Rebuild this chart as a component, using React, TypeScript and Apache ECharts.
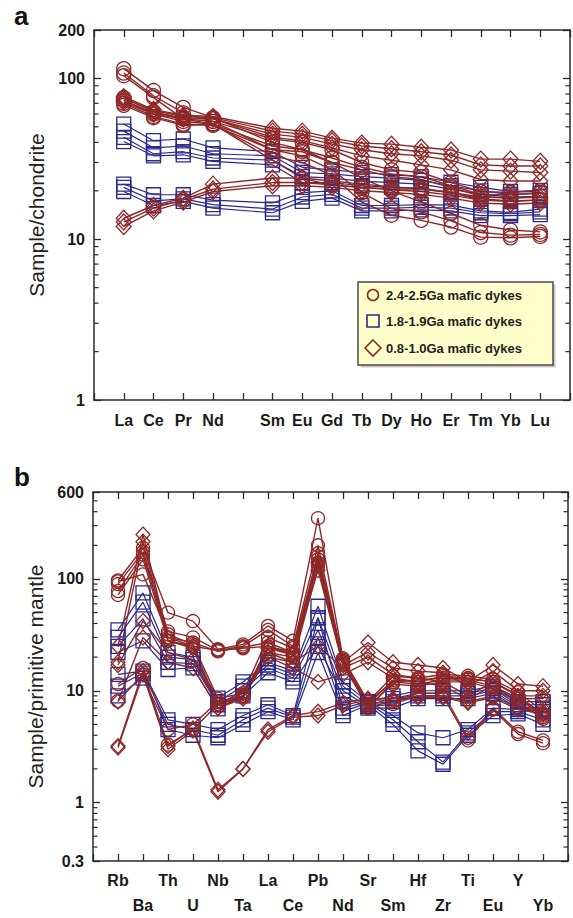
import React, { useEffect, useRef } from 'react';
import * as echarts from 'echarts';

const FONT = '"Liberation Sans", Arial, Helvetica, sans-serif';
const RED = '#8E2828';
const BLUE = '#2B2A8C';
const AXIS = '#2a2a2a';

// ---------- categories ----------
const REE = ['La', 'Ce', 'Pr', 'Nd', 'Pm', 'Sm', 'Eu', 'Gd', 'Tb', 'Dy', 'Ho', 'Er', 'Tm', 'Yb', 'Lu'];
const SPIDER = ['Rb', 'Ba', 'Th', 'U', 'Nb', 'Ta', 'La', 'Ce', 'Pb', 'Nd', 'Sr', 'Sm', 'Hf', 'Zr', 'Ti', 'Eu', 'Y', 'Yb'];
const HIDDEN_REE = 'Pm';

const LEGEND_NAMES = ['2.4-2.5Ga mafic dykes', '1.8-1.9Ga mafic dykes', '0.8-1.0Ga mafic dykes'];

// minor tick values on the log axes
const MINOR_A = [2, 3, 4, 5, 6, 7, 8, 9, 20, 30, 40, 50, 60, 70, 80, 90];
const MINOR_B = [0.4, 0.5, 0.6, 0.7, 0.8, 0.9, 2, 3, 4, 5, 6, 7, 8, 9, 20, 30, 40, 50, 60, 70, 80, 90, 200, 300, 400, 500];

// ---------- panel a : chondrite-normalised REE ----------
// La Ce Pr Nd Pm Sm Eu Gd Tb Dy Ho Er Tm Yb Lu
const aCircle1 = [115, 84, 66, 57, null, 40, 36, 30, 24, 20, 17, 14.5, 12.2, 11.4, 11.1];
const aCircle2 = [108, 78, 61, 54, null, 36, 33, 27, 19.5, 15.5, 14.8, 13, 11, 10.6, 10.7];
const aCircle3 = [104, 76, 56, 52, null, 33, 30, 25, 17, 14.1, 13.1, 11.9, 10.3, 10.2, 10.4];
const aCircle4 = [76, 62, 56, 54, null, 42, 40, 36, 30, 27, 26, 22.5, 19.8, 19.5, 20];
const aCircle5 = [73, 60, 54, 52, null, 38, 36, 32, 28, 25.5, 24.5, 21.5, 19, 18.9, 19.5];
const aCircle6 = [70, 58, 52, 51, null, 36, 35, 30, 27, 24.5, 23.5, 21, 18.5, 18, 18.5];
const aCircle7 = [68, 57, 51, 52, null, 31, 24, 21.6, 21, 20.5, 20.5, 19.5, 17.5, 17.2, 17.5];

const aSquare1 = [52, 41, 42, 37, null, 35, 28, 27, 26, 25.2, 24.4, 22.6, 21, 19.8, 20.1];
const aSquare2 = [47, 37, 38, 34, null, 33, 26, 25.5, 24.5, 24, 23.2, 21.5, 20, 19, 19.2];
const aSquare3 = [43, 34, 35, 32, null, 31, 24.5, 24, 23, 22.5, 22, 20.5, 19, 18.3, 18.5];
const aSquare4 = [40.5, 33, 33.5, 30.5, null, 29, 22.5, 22.5, 21.5, 21, 20.8, 19.5, 17.8, 17.3, 17.5];
const aSquare5 = [22, 18.9, 18.9, 17.5, null, 16.8, 19.5, 20, 16.2, 16.2, 16.4, 16.3, 15, 14.7, 15.4];
const aSquare6 = [21, 17.3, 17.8, 16.4, null, 15.4, 18.3, 19, 15.6, 15.6, 15.8, 15.6, 14.6, 14.4, 14.8];
const aSquare7 = [19.8, 16.2, 17.2, 15.6, null, 14.6, 17.2, 18, 15, 15, 15.2, 15, 14, 14, 14.2];

const aDiamond1 = [77, 64, 59, 58, null, 49, 47, 42.5, 39.6, 39, 37.3, 35.9, 31.5, 31.5, 30.5];
const aDiamond2 = [75, 63, 58, 57, null, 47, 45, 41, 38, 36.5, 35, 33.4, 29, 28.5, 28.5];
const aDiamond3 = [73, 61, 57, 56, null, 45, 43, 39, 36, 34, 33, 31, 27, 26.5, 26];
const aDiamond4 = [71, 60, 56, 56, null, 43, 41, 37, 33, 31, 29, 27, 23.5, 23, 23];
const aDiamond5 = [13.5, 16.2, 18, 22, null, 24, 24, 23, 22, 21.2, 20.5, 19.5, 18.3, 18, 18.2];
const aDiamond6 = [12.8, 15.6, 17.6, 20.5, null, 22.5, 22.5, 21.8, 21, 20.3, 19.8, 18.8, 17.5, 17.3, 17.5];
const aDiamond7 = [12, 15, 17, 19.8, null, 21.5, 21.5, 21, 20, 19.5, 19, 18, 16.8, 16.5, 16.8];

// ---------- panel b : primitive-mantle-normalised ----------
// Rb Ba Th U Nb Ta La Ce Pb Nd Sr Sm Hf Zr Ti Eu Y Yb
const bCircle1 = [97, 190, 50, 42, 23.5, 26, 38, 28, 350, 19.5, 8, 13.5, 13, 14, 13.6, 12.6, 9.7, 6.6];
const bCircle2 = [90, 175, 34, 30, 23, 25, 35, 25, 200, 18.5, 7.5, 12.5, 12, 13.5, 13, 12, 9, 6.2];
const bCircle3 = [78, 165, 30, 27, 22.5, 24.5, 27, 22, 170, 18, 7, 12, 11.5, 12.5, 12.5, 11, 8.5, 6];
const bCircle4 = [72, 150, 28, 25, 23, 24, 25, 21, 150, 17.5, 7.2, 11.5, 11, 12, 12, 10.5, 8, 5.6];
const bCircle5 = [95, 110, 32, 26, 8.5, 9.5, 30, 24, 160, 19, 8, 12, 12.5, 13, 12.8, 12, 9, 5.8];
const bCircle6 = [11.5, 16, 4.5, 5, 8, 9, 22, 20, 140, 18.5, 7.6, 8, 9.5, 9.5, 3.8, 7, 4.3, 3.6];
const bCircle7 = [8.1, 14, 3.3, 4.5, 7.6, 8.7, 20, 18, 130, 17, 7.2, 7.6, 9, 9, 3.6, 6.8, 4.1, 3.4];

const bSquare1 = [35, 75, 22, 20, 8.6, 12, 18, 15, 57, 12, 8, 9, 10, 10, 10, 11, 8, 8];
const bSquare2 = [30, 62, 20, 19, 8, 11, 17, 14, 45, 11, 7.5, 8.5, 9.5, 9.5, 9.5, 10.5, 7.5, 7.5];
const bSquare3 = [25, 44, 18, 17.5, 7.5, 10, 16, 13, 35, 10, 7.2, 8, 9, 9, 9, 10, 7.2, 7];
const bSquare4 = [22, 28, 15.5, 16, 6.9, 9, 14.5, 12, 25, 9, 7, 7, 8.5, 8.5, 8.5, 9.5, 7, 6.8];
const bSquare5 = [14, 15, 5.5, 5, 4.5, 6, 7.5, 6, 45, 7, 8, 6, 4.2, 3.8, 4.5, 7, 6.8, 6.5];
const bSquare6 = [11, 14.4, 5, 4.5, 4, 5.5, 7, 5.8, 30, 6.5, 7.8, 5.5, 3.5, 2.3, 4.2, 6.5, 6.5, 5.5];
const bSquare7 = [9, 13, 4.5, 4, 3.8, 5, 6.5, 5.5, 22, 6, 7.5, 5, 2.9, 2.2, 4, 6, 6.2, 5];

const bDiamond1 = [25, 250, 30, 25, 7.5, 9, 25, 22, 140, 18, 27, 18, 17, 16, 12, 17, 11.5, 11];
const bDiamond2 = [18, 215, 28, 24, 7, 8.5, 24, 21, 120, 17, 22, 16, 15, 14.5, 11, 15, 10, 10];
const bDiamond3 = [17, 42, 22, 19, 7.5, 9.5, 22, 18, 25, 16, 20, 14, 13, 12, 9, 12, 9, 9];
const bDiamond4 = [8, 30, 18, 16, 7, 9, 20, 16, 12, 14, 18, 13, 12, 11, 8.5, 11, 8.5, 8.5];
const bDiamond5 = [3.2, 15, 3.2, 4.6, 1.3, 2.0, 4.5, 6, 6.5, 7.8, 8.5, 8.5, 9, 9, 8, 9, 7, 6.5];
const bDiamond6 = [3.1, 14, 3.0, 4.4, 1.25, 2.0, 4.3, 5.8, 6, 7.4, 8.3, 8.2, 8.7, 8.7, 7.8, 8.7, 6.8, 6.2];

const A_CIRCLES = [aCircle1, aCircle2, aCircle3, aCircle4, aCircle5, aCircle6, aCircle7];
const A_SQUARES = [aSquare1, aSquare2, aSquare3, aSquare4, aSquare5, aSquare6, aSquare7];
const A_DIAMONDS = [aDiamond1, aDiamond2, aDiamond3, aDiamond4, aDiamond5, aDiamond6, aDiamond7];
const B_CIRCLES = [bCircle1, bCircle2, bCircle3, bCircle4, bCircle5, bCircle6, bCircle7];
const B_SQUARES = [bSquare1, bSquare2, bSquare3, bSquare4, bSquare5, bSquare6, bSquare7];
const B_DIAMONDS = [bDiamond1, bDiamond2, bDiamond3, bDiamond4, bDiamond5, bDiamond6];

function toPoints(vals: (number | null)[]) {
  return vals.map((v, i) => [i + 1, v]).filter((p) => p[1] != null);
}

function sampleSeries(name: string, vals: (number | null)[], axisIdx: number, symbol: string, size: any, color: string, width: number) {
  return {
    type: 'line',
    name,
    xAxisIndex: axisIdx,
    yAxisIndex: axisIdx,
    data: toPoints(vals),
    symbol,
    symbolSize: size,
    showSymbol: true,
    lineStyle: { color, width },
    itemStyle: { color: 'rgba(255,255,255,0)', borderColor: color, borderWidth: 1.3 },
    emphasis: { disabled: true },
    silent: true,
    z: 3,
  };
}

function minorSeries(axisIdx: number, values: number[]) {
  return {
    type: 'custom',
    xAxisIndex: axisIdx,
    yAxisIndex: axisIdx,
    silent: true,
    z: 6,
    data: values.map((v) => [1, v]),
    renderItem: (params: any, api: any) => {
      const cs = params.coordSys;
      const y = api.coord([1, api.value(1)])[1];
      const st = { stroke: AXIS, lineWidth: 1.2 };
      return {
        type: 'group',
        children: [
          { type: 'line', shape: { x1: cs.x, y1: y, x2: cs.x + 4.5, y2: y }, style: st },
          { type: 'line', shape: { x1: cs.x + cs.width - 4.5, y1: y, x2: cs.x + cs.width, y2: y }, style: st },
        ],
      };
    },
  };
}

const fmtLog = (v: number) => String(Number(Number(v).toPrecision(6)));

function xAxis(gridIndex: number, max: number, position: string, showLabel: boolean, formatter?: any, extraLabel?: any) {
  return {
    type: 'value',
    gridIndex,
    min: 0,
    max,
    interval: 1,
    position,
    axisLine: { show: true, onZero: false, lineStyle: { color: AXIS, width: 1.5 } },
    axisTick: { show: true, inside: true, length: 7, lineStyle: { color: AXIS, width: 1.3 } },
    axisLabel: {
      show: showLabel,
      fontFamily: FONT,
      fontSize: 16,
      fontWeight: 'bold',
      color: '#1a1a1a',
      formatter,
      ...(extraLabel || {}),
    },
    splitLine: { show: false },
  };
}

function yAxis(gridIndex: number, min: number, max: number, position: string, name?: string) {
  return {
    type: 'log',
    logBase: 10,
    gridIndex,
    min,
    max,
    position,
    name: name || '',
    nameLocation: 'middle',
    nameGap: 45,
    nameRotate: 90,
    nameTextStyle: { fontFamily: FONT, fontSize: 21, color: '#222' },
    axisLine: { show: true, onZero: false, lineStyle: { color: AXIS, width: 1.5 } },
    axisTick: { show: true, inside: true, length: 7, lineStyle: { color: AXIS, width: 1.3 } },
    axisLabel: {
      show: position === 'left',
      fontFamily: FONT,
      fontSize: 16,
      fontWeight: 'bold',
      color: '#1a1a1a',
      margin: 9,
      formatter: fmtLog,
    },
    splitLine: { show: false },
    minorTick: { show: false },
  };
}

function buildOption() {
  const fmtA = (v: number) => {
    const lab = REE[v - 1];
    return lab && lab !== HIDDEN_REE ? lab : '';
  };
  const fmtB = (v: number) => {
    const i = v - 1;
    if (i < 0 || i >= SPIDER.length) return '';
    return i % 2 === 0 ? SPIDER[i] : '\n' + SPIDER[i];
  };

  const series: any[] = [];
  A_SQUARES.forEach((d) => series.push(sampleSeries(LEGEND_NAMES[1], d, 0, 'rect', 14, BLUE, 1.2)));
  A_DIAMONDS.forEach((d) => series.push(sampleSeries(LEGEND_NAMES[2], d, 0, 'diamond', [15, 16], RED, 1.4)));
  A_CIRCLES.forEach((d) => series.push(sampleSeries(LEGEND_NAMES[0], d, 0, 'circle', 14, RED, 1.4)));
  B_SQUARES.forEach((d) => series.push(sampleSeries(LEGEND_NAMES[1], d, 2, 'rect', 14, BLUE, 1.2)));
  B_DIAMONDS.forEach((d) => series.push(sampleSeries(LEGEND_NAMES[2], d, 2, 'diamond', [14, 15], RED, 1.4)));
  B_CIRCLES.forEach((d) => series.push(sampleSeries(LEGEND_NAMES[0], d, 2, 'circle', 13, RED, 1.4)));
  series.push(minorSeries(0, MINOR_A));
  series.push(minorSeries(2, MINOR_B));

  const txt = (text: string, x: number, y: number) => ({
    type: 'text',
    x,
    y,
    style: {
      text,
      fontFamily: FONT,
      fontSize: 13,
      fontWeight: 'bold',
      fill: '#1e1e1e',
      align: 'left',
      verticalAlign: 'middle',
      textAlign: 'left',
      textVerticalAlign: 'middle',
    },
  });

  return {
    animation: false,
    backgroundColor: '#ffffff',
    grid: [
      { left: 94, top: 30, width: 477, height: 370, containLabel: false },
      { left: 93, top: 492, width: 475, height: 371, containLabel: false },
    ],
    xAxis: [
      xAxis(0, REE.length + 1, 'bottom', true, fmtA, { margin: 12 }),
      xAxis(0, REE.length + 1, 'top', false),
      xAxis(1, SPIDER.length + 1, 'bottom', true, fmtB, { margin: 7, lineHeight: 25, verticalAlign: 'top' }),
      xAxis(1, SPIDER.length + 1, 'top', false),
    ],
    yAxis: [
      yAxis(0, 1, 200, 'left', 'Sample/chondrite'),
      yAxis(0, 1, 200, 'right'),
      yAxis(1, 0.3, 600, 'left', 'Sample/primitive mantle'),
      yAxis(1, 0.3, 600, 'right'),
    ],
    series,
    graphic: [
      { type: 'text', left: 14, top: 3, style: { text: 'a', fontFamily: FONT, fontSize: 26, fontWeight: 'bold', fill: '#111' } },
      { type: 'text', left: 14, top: 464, style: { text: 'b', fontFamily: FONT, fontSize: 26, fontWeight: 'bold', fill: '#111' } },
      { type: 'rect', shape: { x: 360.5, y: 284.5, width: 195, height: 83 }, style: { fill: '#c9c9c9' }, z: 10 },
      { type: 'rect', shape: { x: 358, y: 282, width: 195, height: 83 }, style: { fill: '#FFFFCC', stroke: '#4a4a4a', lineWidth: 1.5 }, z: 11 },
      { type: 'circle', shape: { cx: 373, cy: 295, r: 5.5 }, style: { fill: 'none', stroke: RED, lineWidth: 1.6 }, z: 12 },
      { type: 'rect', shape: { x: 367, y: 315, width: 12, height: 12 }, style: { fill: 'none', stroke: BLUE, lineWidth: 1.6 }, z: 12 },
      { type: 'polygon', shape: { points: [[373, 340], [381, 348], [373, 356], [365, 348]] }, style: { fill: 'none', stroke: RED, lineWidth: 1.6 }, z: 12 },
      { ...txt(LEGEND_NAMES[0], 386, 295), z: 12 },
      { ...txt(LEGEND_NAMES[1], 386, 321), z: 12 },
      { ...txt(LEGEND_NAMES[2], 386, 348), z: 12 },
    ],
  };
}

export default function App() {
  const ref = useRef<HTMLDivElement>(null);
  useEffect(() => {
    if (!ref.current) return;
    const chart = echarts.init(ref.current, undefined, { renderer: 'svg' });
    chart.setOption(buildOption() as any);
    return () => chart.dispose();
  }, []);
  return (
    <div
      ref={ref}
      style={{ position: 'absolute', left: 0, top: 0, width: 573, height: 918, background: '#fff' }}
    />
  );
}
